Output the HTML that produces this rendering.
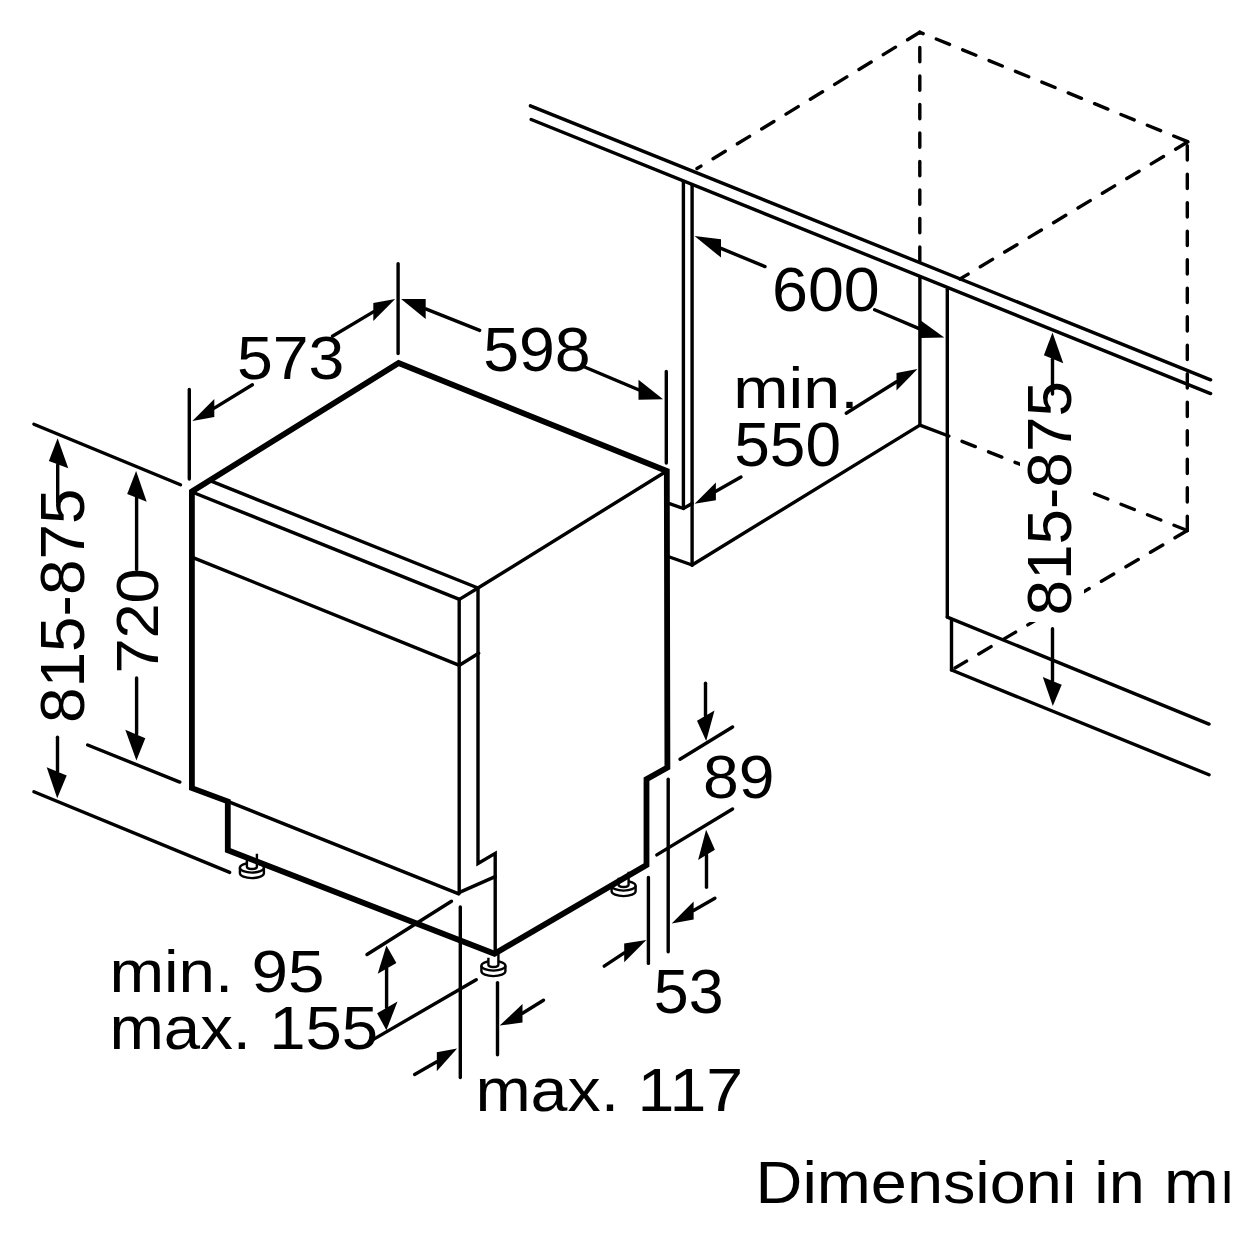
<!DOCTYPE html>
<html><head><meta charset="utf-8"><style>
html,body{margin:0;padding:0;background:#fff;width:1260px;height:1238px;overflow:hidden}
svg{display:block}
text{font-family:"Liberation Sans",sans-serif;fill:#000;stroke:none}
</style></head><body>
<svg width="1260" height="1238" viewBox="0 0 1260 1238">
<rect width="1260" height="1238" fill="#fff"/>
<g stroke="#000" fill="none">
<line x1="530.4" y1="105.8" x2="1210.6" y2="379.8" stroke-width="3.4" stroke-linecap="round"/>
<line x1="531.2" y1="119.5" x2="1210.6" y2="393.6" stroke-width="3.4" stroke-linecap="round"/>
<line x1="919.8" y1="32.3" x2="697" y2="168.5" stroke-width="3.4" stroke-linecap="round" stroke-dasharray="14.3 14.2" stroke-dashoffset="0"/>
<line x1="1187.9" y1="141.8" x2="919.8" y2="32.3" stroke-width="3.4" stroke-linecap="round" stroke-dasharray="14.3 14.2" stroke-dashoffset="-1"/>
<line x1="919.8" y1="32.3" x2="919.8" y2="262" stroke-width="3.4" stroke-linecap="round" stroke-dasharray="14.3 14.2" stroke-dashoffset="13.4"/>
<line x1="1187.9" y1="141.8" x2="960" y2="279" stroke-width="3.4" stroke-linecap="round" stroke-dasharray="14.3 14.2" stroke-dashoffset="0"/>
<line x1="1187.3" y1="530.5" x2="1187.3" y2="141.8" stroke-width="3.4" stroke-linecap="round" stroke-dasharray="14.3 14.2" stroke-dashoffset="0"/>
<line x1="1187.3" y1="530.5" x2="955" y2="668" stroke-width="3.4" stroke-linecap="round" stroke-dasharray="14.3 14.2" stroke-dashoffset="0"/>
<line x1="1187.3" y1="530.5" x2="947.3" y2="435.5" stroke-width="3.4" stroke-linecap="round" stroke-dasharray="14.3 14.2" stroke-dashoffset="0"/>
<rect x="1020" y="377" width="64" height="245" fill="#fff" stroke="none"/>
<line x1="683.4" y1="181.7" x2="683.4" y2="508.5" stroke-width="3.4" stroke-linecap="round"/>
<line x1="692.1" y1="185.2" x2="692.1" y2="565" stroke-width="3.4" stroke-linecap="round"/>
<polyline points="669.5,503.6 683.4,508.5 692.1,503.6" fill="none" stroke-width="3.4" stroke-linejoin="miter" stroke-linecap="round"/>
<line x1="669.5" y1="557" x2="692.1" y2="565" stroke-width="3.4" stroke-linecap="round"/>
<line x1="692.1" y1="565" x2="919.9" y2="425.1" stroke-width="3.4" stroke-linecap="round"/>
<line x1="919.9" y1="277.2" x2="919.9" y2="425.1" stroke-width="3.4" stroke-linecap="round"/>
<line x1="919.9" y1="425.1" x2="947.3" y2="435.5" stroke-width="3.4" stroke-linecap="round"/>
<line x1="947.3" y1="289.3" x2="947.3" y2="617.1" stroke-width="3.4" stroke-linecap="round"/>
<line x1="947.3" y1="617.1" x2="1209" y2="724.1" stroke-width="3.4" stroke-linecap="round"/>
<line x1="951.5" y1="619.5" x2="951.5" y2="670" stroke-width="3.4" stroke-linecap="round"/>
<line x1="951.5" y1="670" x2="1209" y2="774.8" stroke-width="3.4" stroke-linecap="round"/>
<path d="M239.9,867.8 v5.5 a12.0,4.8 0 0 0 24.0,0 v-5.5" fill="#fff" stroke="#000" stroke-width="2.4"/>
<ellipse cx="251.9" cy="867.8" rx="12.0" ry="4.8" fill="#fff" stroke="#000" stroke-width="2.4"/>
<path d="M246.9,859.8 v7 a5,2.2 0 0 0 10,0 v-13" fill="#fff" stroke="#000" stroke-width="2.4"/>
<path d="M481.4,965.8 v5.5 a12.0,4.8 0 0 0 24.0,0 v-5.5" fill="#fff" stroke="#000" stroke-width="2.4"/>
<ellipse cx="493.4" cy="965.8" rx="12.0" ry="4.8" fill="#fff" stroke="#000" stroke-width="2.4"/>
<path d="M488.4,957.8 v7 a5,2.2 0 0 0 10,0 v-13" fill="#fff" stroke="#000" stroke-width="2.4"/>
<path d="M611.6,885.8 v5.5 a12.0,4.8 0 0 0 24.0,0 v-5.5" fill="#fff" stroke="#000" stroke-width="2.4"/>
<ellipse cx="623.6" cy="885.8" rx="12.0" ry="4.8" fill="#fff" stroke="#000" stroke-width="2.4"/>
<path d="M618.6,877.8 v7 a5,2.2 0 0 0 10,0 v-13" fill="#fff" stroke="#000" stroke-width="2.4"/>
<polygon points="191.9,491.5 398.6,363.1 666.8,471 667.4,767.6 646.5,779.2 646.5,865 494.5,953.7 227.8,850.3 227.8,801.4 191.9,788.1" fill="none" stroke-width="5.8" stroke-linejoin="miter" stroke-linecap="round"/>
<line x1="666.8" y1="471" x2="478" y2="588" stroke-width="3.4" stroke-linecap="round"/>
<line x1="211.8" y1="481.4" x2="478" y2="588" stroke-width="3.4" stroke-linecap="round"/>
<line x1="192" y1="492" x2="459.4" y2="599.4" stroke-width="3.4" stroke-linecap="round"/>
<line x1="459.4" y1="599.4" x2="478" y2="588" stroke-width="3.4" stroke-linecap="round"/>
<line x1="459.2" y1="599.4" x2="459.2" y2="893" stroke-width="3.4" stroke-linecap="round"/>
<polyline points="478,588 478,863.5 495.2,853.4 495.2,953.7" fill="none" stroke-width="3.4" stroke-linejoin="miter" stroke-linecap="round"/>
<line x1="458.9" y1="892.6" x2="495.2" y2="876.6" stroke-width="3.4" stroke-linecap="round"/>
<line x1="193.6" y1="557.8" x2="459.4" y2="665.3" stroke-width="3.4" stroke-linecap="round"/>
<line x1="459.4" y1="665.3" x2="478.7" y2="653.2" stroke-width="3.4" stroke-linecap="round"/>
<line x1="227.8" y1="801.4" x2="458.8" y2="893.9" stroke-width="3.4" stroke-linecap="round"/>
<line x1="189.3" y1="389.4" x2="189.3" y2="479" stroke-width="3.4" stroke-linecap="round"/>
<line x1="398.1" y1="263.8" x2="398.1" y2="353.6" stroke-width="3.4" stroke-linecap="round"/>
<polygon points="192.4,421.0 214.3,399.0 214.3,417.1" fill="#000" stroke="none"/>
<line x1="252.4" y1="384.8" x2="214.3" y2="408.1" stroke-width="3.4" stroke-linecap="round"/>
<polygon points="395.2,299.0 373.3,302.9 373.3,321.0" fill="#000" stroke="none"/>
<line x1="332.4" y1="336.2" x2="373.3" y2="311.9" stroke-width="3.4" stroke-linecap="round"/>
<line x1="666.3" y1="371.5" x2="666.3" y2="463" stroke-width="3.4" stroke-linecap="round"/>
<polygon points="401.1,299.0 425.7,299.0 425.7,318.9" fill="#000" stroke="none"/>
<line x1="479.7" y1="330.4" x2="425.7" y2="308.9" stroke-width="3.4" stroke-linecap="round"/>
<polygon points="663.1,399.3 638.5,379.8 638.5,399.7" fill="#000" stroke="none"/>
<line x1="584" y1="366.7" x2="638.5" y2="389.8" stroke-width="3.4" stroke-linecap="round"/>
<polygon points="694.5,236.0 721.0,239.2 721.0,257.6" fill="#000" stroke="none"/>
<line x1="765" y1="266.6" x2="721.0" y2="248.4" stroke-width="3.4" stroke-linecap="round"/>
<polygon points="944.3,337.5 919.7,319.7 919.7,338.1" fill="#000" stroke="none"/>
<line x1="874.6" y1="309.8" x2="919.7" y2="328.9" stroke-width="3.4" stroke-linecap="round"/>
<polygon points="917.5,369.0 896.5,372.9 896.5,390.6" fill="#000" stroke="none"/>
<line x1="846.2" y1="413.2" x2="896.5" y2="381.8" stroke-width="3.4" stroke-linecap="round"/>
<polygon points="694.6,503.7 715.9,482.4 715.9,500.2" fill="#000" stroke="none"/>
<line x1="741" y1="477" x2="715.9" y2="491.3" stroke-width="3.4" stroke-linecap="round"/>
<polygon points="1052.5,332.5 1043.9,355.3 1063.3,363.3" fill="#000" stroke="none"/>
<line x1="1052.5" y1="394" x2="1052.5" y2="359.3" stroke-width="3.4" stroke-linecap="round"/>
<polygon points="1052.8,706.1 1042.8,676.9 1061.7,684.7" fill="#000" stroke="none"/>
<line x1="1052.5" y1="628.8" x2="1052.5" y2="680.8" stroke-width="3.4" stroke-linecap="round"/>
<line x1="33.9" y1="424.2" x2="180.5" y2="484.8" stroke-width="3.4" stroke-linecap="round"/>
<line x1="33.9" y1="791.8" x2="229.7" y2="872.4" stroke-width="3.4" stroke-linecap="round"/>
<polygon points="57.6,438.3 48.9,461.1 68.3,468.3" fill="#000" stroke="none"/>
<line x1="57.7" y1="502" x2="57.7" y2="464.7" stroke-width="3.4" stroke-linecap="round"/>
<polygon points="57.2,798.3 46.7,767.2 66.7,775.6" fill="#000" stroke="none"/>
<line x1="57.5" y1="737.2" x2="57.5" y2="771.4" stroke-width="3.4" stroke-linecap="round"/>
<line x1="87.7" y1="745" x2="179.8" y2="782.1" stroke-width="3.4" stroke-linecap="round"/>
<polygon points="136.1,471.1 127.2,493.9 146.7,501.7" fill="#000" stroke="none"/>
<line x1="136.6" y1="569.6" x2="136.6" y2="497.8" stroke-width="3.4" stroke-linecap="round"/>
<polygon points="136.4,760.6 125.3,729.7 145.3,738.3" fill="#000" stroke="none"/>
<line x1="136.6" y1="678" x2="136.6" y2="734.0" stroke-width="3.4" stroke-linecap="round"/>
<line x1="680" y1="759.2" x2="732.6" y2="727" stroke-width="3.4" stroke-linecap="round"/>
<line x1="656.8" y1="854.9" x2="732.6" y2="809" stroke-width="3.4" stroke-linecap="round"/>
<polygon points="706.2,741.1 697.0,720.7 714.5,710.6" fill="#000" stroke="none"/>
<line x1="705.5" y1="683.3" x2="705.5" y2="715.7" stroke-width="3.4" stroke-linecap="round"/>
<polygon points="706.1,829.7 698.1,860.0 714.9,849.7" fill="#000" stroke="none"/>
<line x1="706.5" y1="887.2" x2="706.5" y2="854.9" stroke-width="3.4" stroke-linecap="round"/>
<line x1="668.2" y1="779.2" x2="668.2" y2="951.8" stroke-width="3.4" stroke-linecap="round"/>
<line x1="648.4" y1="877.5" x2="648.4" y2="963.4" stroke-width="3.4" stroke-linecap="round"/>
<polygon points="646.4,940.0 624.2,943.6 624.2,962.2" fill="#000" stroke="none"/>
<line x1="604.2" y1="966.1" x2="624.2" y2="952.9" stroke-width="3.4" stroke-linecap="round"/>
<polygon points="671.7,923.4 693.6,901.4 693.6,919.5" fill="#000" stroke="none"/>
<line x1="714.9" y1="898.2" x2="693.6" y2="910.5" stroke-width="3.4" stroke-linecap="round"/>
<line x1="367" y1="954.5" x2="451.5" y2="901.2" stroke-width="3.4" stroke-linecap="round"/>
<line x1="372.6" y1="1039.9" x2="476.2" y2="979.7" stroke-width="3.4" stroke-linecap="round"/>
<polygon points="386.4,945.4 377.7,973.7 396.4,963.0" fill="#000" stroke="none"/>
<polygon points="386.4,1030.3 377.1,1013.3 397.5,1001.4" fill="#000" stroke="none"/>
<line x1="386.6" y1="968" x2="386.6" y2="1007.5" stroke-width="3.4" stroke-linecap="round"/>
<line x1="460.3" y1="907" x2="460.3" y2="1077.6" stroke-width="3.4" stroke-linecap="round"/>
<line x1="497.5" y1="982.6" x2="497.5" y2="1054.8" stroke-width="3.4" stroke-linecap="round"/>
<polygon points="457.1,1048.4 436.8,1052.2 436.8,1071.3" fill="#000" stroke="none"/>
<line x1="414.6" y1="1074.4" x2="436.8" y2="1061.8" stroke-width="3.4" stroke-linecap="round"/>
<polygon points="499.7,1025.6 522.5,1004.0 522.5,1022.4" fill="#000" stroke="none"/>
<line x1="543.5" y1="1000.2" x2="522.5" y2="1013.2" stroke-width="3.4" stroke-linecap="round"/>
<text x="237.0" y="378.6" font-size="61.5" textLength="107.4" lengthAdjust="spacingAndGlyphs">573</text>
<text x="483.2" y="371.2" font-size="62.2" textLength="107.5" lengthAdjust="spacingAndGlyphs">598</text>
<text x="772.0" y="311.2" font-size="62.2" textLength="107.7" lengthAdjust="spacingAndGlyphs">600</text>
<text x="733.2" y="407.8" font-size="57.9" textLength="125.4" lengthAdjust="spacingAndGlyphs">min.</text>
<text x="734.2" y="465.6" font-size="62.9" textLength="106.8" lengthAdjust="spacingAndGlyphs">550</text>
<text x="703.0" y="798.2" font-size="61.5" textLength="71.5" lengthAdjust="spacingAndGlyphs">89</text>
<text x="653.8" y="1012.8" font-size="62.2" textLength="69.7" lengthAdjust="spacingAndGlyphs">53</text>
<text x="109.4" y="992.2" font-size="59.3" textLength="215.0" lengthAdjust="spacingAndGlyphs">min. 95</text>
<text x="109.4" y="1049.4" font-size="61.5" textLength="268.8" lengthAdjust="spacingAndGlyphs">max. 155</text>
<text x="475.4" y="1110.6" font-size="60.8" textLength="267.8" lengthAdjust="spacingAndGlyphs">max. 117</text>
<text x="755.6" y="1203.0" font-size="59.3" textLength="389.2" lengthAdjust="spacingAndGlyphs">Dimensioni in</text>
<text x="1164.0" y="1203.0" font-size="61.0" textLength="54.7" lengthAdjust="spacingAndGlyphs">m</text>
<text x="1220.3" y="1203.0" font-size="61.0" textLength="54.7" lengthAdjust="spacingAndGlyphs">m</text>
<text x="1071.0" y="615.4" font-size="62.2" textLength="234.3" lengthAdjust="spacingAndGlyphs" transform="rotate(-90 1071.0 615.4)">815-875</text>
<text x="83.6" y="723.0" font-size="62.9" textLength="234.5" lengthAdjust="spacingAndGlyphs" transform="rotate(-90 83.6 723.0)">815-875</text>
<text x="157.8" y="673.6" font-size="60.0" textLength="105.3" lengthAdjust="spacingAndGlyphs" transform="rotate(-90 157.8 673.6)">720</text>
</g>
<rect x="1229.5" y="1140" width="40" height="98" fill="#fff"/>
</svg>
</body></html>
